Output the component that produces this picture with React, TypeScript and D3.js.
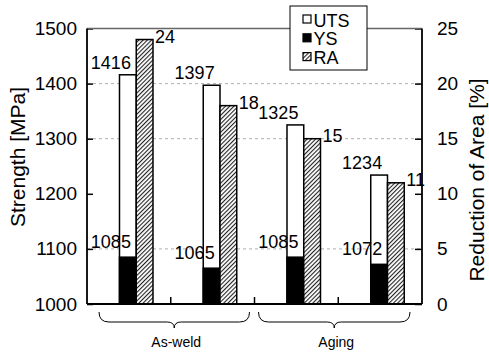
import { useEffect, useRef } from 'react';
import * as d3 from 'd3';

const W = 489;
const H = 354;
const FONT = '"Liberation Sans", Arial, sans-serif';

// four specimens, two per condition
const categories = ['aw-1', 'aw-2', 'ag-1', 'ag-2'];
const utsValues = [1416, 1397, 1325, 1234];
const ysValues = [1085, 1065, 1085, 1072];
const raValues = [24, 18, 15, 11];

const groupNames = ['As-weld', 'Aging'];
const groupMembers = [[0, 1], [2, 3]];

const strengthTicks = [1000, 1100, 1200, 1300, 1400, 1500];
const raTicks = [0, 5, 10, 15, 20, 25];
const gridValues = [1100, 1300, 1400];

const legendItems = ['UTS', 'YS', 'RA'];

export default function App() {
    const svgRef = useRef<SVGSVGElement>(null);

    useEffect(() => {
        if (!svgRef.current) return;
        const svg = d3.select(svgRef.current);
        svg.selectAll('*').remove();

        const left = 87, right = 422, top = 28.5, bottom = 304;

        const x = d3.scaleBand().domain(categories).range([left, right]).padding(0);
        const yL = d3.scaleLinear().domain([1000, 1500]).range([bottom, top]);
        const yR = d3.scaleLinear().domain([0, 25]).range([bottom, top]);
        const bw = x.bandwidth();
        const barW = bw * 0.2;
        const utsX = (i: number) => (x(categories[i]) as number) + bw * 0.388;
        const raX = (i: number) => utsX(i) + barW;

        // hatch pattern for RA
        const defs = svg.append('defs');
        const pat = defs.append('pattern')
            .attr('id', 'hatch')
            .attr('patternUnits', 'userSpaceOnUse')
            .attr('width', 3).attr('height', 3)
            .attr('patternTransform', 'rotate(45)');
        pat.append('rect').attr('width', 3).attr('height', 3).attr('fill', '#fff');
        pat.append('line').attr('x1', 0.5).attr('x2', 0.5).attr('y1', 0).attr('y2', 3)
            .attr('stroke', '#222').attr('stroke-width', 1.2);

        // gridlines
        svg.append('g').selectAll('line').data(gridValues).join('line')
            .attr('x1', left).attr('x2', right)
            .attr('y1', d => yL(d)).attr('y2', d => yL(d))
            .attr('stroke', '#999').attr('stroke-width', 0.8)
            .attr('stroke-dasharray', '3,3');

        // bars
        const bars = svg.append('g');
        categories.forEach((c, i) => {
            bars.append('rect')
                .attr('x', utsX(i)).attr('y', yL(utsValues[i]))
                .attr('width', barW).attr('height', bottom - yL(utsValues[i]))
                .attr('fill', '#fff').attr('stroke', '#000').attr('stroke-width', 1.5);
            bars.append('rect')
                .attr('x', utsX(i)).attr('y', yL(ysValues[i]))
                .attr('width', barW).attr('height', bottom - yL(ysValues[i]))
                .attr('fill', '#000').attr('stroke', '#000').attr('stroke-width', 1.5);
            bars.append('rect')
                .attr('x', raX(i)).attr('y', yR(raValues[i]))
                .attr('width', barW).attr('height', bottom - yR(raValues[i]))
                .attr('fill', 'url(#hatch)').attr('stroke', '#000').attr('stroke-width', 1.5);
        });

        // value labels
        const labels = svg.append('g').style('font-family', FONT).style('font-size', '18px').attr('fill', '#000');
        categories.forEach((c, i) => {
            labels.append('text')
                .attr('x', utsX(i) + barW / 2 - 17).attr('y', yL(utsValues[i]) - 6)
                .attr('text-anchor', 'middle').text(utsValues[i]);
            labels.append('text')
                .attr('x', utsX(i) + barW / 2 - 17).attr('y', yL(ysValues[i]) - 9)
                .attr('text-anchor', 'middle').text(ysValues[i]);
            labels.append('text')
                .attr('x', raX(i) + barW + 2).attr('y', yR(raValues[i]) + 3)
                .attr('text-anchor', 'start').text(raValues[i]);
        });

        // axes
        const axL = svg.append('g').attr('transform', `translate(${left},0)`)
            .call(d3.axisLeft(yL).tickValues(strengthTicks).tickFormat(d3.format('d'))
                .tickSizeInner(-6).tickSizeOuter(0).tickPadding(10));
        const axR = svg.append('g').attr('transform', `translate(${right},0)`)
            .call(d3.axisRight(yR).tickValues(raTicks).tickFormat(d3.format('d'))
                .tickSizeInner(-7).tickSizeOuter(0).tickPadding(15));
        [axL, axR].forEach(ax => {
            ax.select('.domain').remove();
            ax.selectAll('line').attr('stroke', '#000').attr('stroke-width', 1.5);
            ax.selectAll('text').style('font-family', FONT).style('font-size', '19px').attr('fill', '#000');
        });

        const frame = svg.append('g');
        frame.append('line').attr('x1', left).attr('x2', right).attr('y1', top).attr('y2', top)
            .attr('stroke', '#666').attr('stroke-width', 1.5);
        frame.append('line').attr('x1', left).attr('x2', left).attr('y1', top).attr('y2', bottom)
            .attr('stroke', '#000').attr('stroke-width', 1.8);
        frame.append('line').attr('x1', right).attr('x2', right).attr('y1', top).attr('y2', bottom)
            .attr('stroke', '#000').attr('stroke-width', 1.8);
        frame.append('line').attr('x1', left).attr('x2', right).attr('y1', bottom).attr('y2', bottom)
            .attr('stroke', '#000').attr('stroke-width', 1.8);
        // bottom ticks between specimens
        categories.slice(1).forEach(c => {
            const tx = x(c) as number;
            frame.append('line').attr('x1', tx).attr('x2', tx).attr('y1', bottom).attr('y2', bottom - 7)
                .attr('stroke', '#000').attr('stroke-width', 1.5);
        });

        // axis titles
        svg.append('text')
            .attr('transform', `translate(25,157) rotate(-90)`)
            .attr('text-anchor', 'middle')
            .style('font-family', FONT).style('font-size', '21px')
            .text('Strength [MPa]');
        svg.append('text')
            .attr('transform', `translate(484,180) rotate(-90)`)
            .attr('text-anchor', 'middle')
            .style('font-family', FONT).style('font-size', '21px')
            .text('Reduction of Area [%]');

        // group braces
        const yTop = 312;
        groupNames.forEach((name, gi) => {
            const [a, b] = groupMembers[gi];
            const x1 = (x(categories[a]) as number) + (gi === 0 ? 12 : 4);
            const x2 = (x(categories[b]) as number) + bw - (gi === 0 ? 5 : 12);
            const mid = (x1 + x2) / 2;
            const flat = yTop + 10;
            const p = d3.path();
            p.moveTo(x1, yTop);
            p.quadraticCurveTo(x1, flat, x1 + 10, flat);
            p.lineTo(mid - 7, flat);
            p.quadraticCurveTo(mid, flat, mid, flat + 6);
            p.quadraticCurveTo(mid, flat, mid + 7, flat);
            p.lineTo(x2 - 10, flat);
            p.quadraticCurveTo(x2, flat, x2, yTop);
            svg.append('path').attr('d', p.toString())
                .attr('fill', 'none').attr('stroke', '#000').attr('stroke-width', 1);
            svg.append('text')
                .attr('x', mid + 2).attr('y', 347)
                .attr('text-anchor', 'middle')
                .style('font-family', FONT).style('font-size', '14px')
                .text(name);
        });

        // legend
        const lg = svg.append('g');
        lg.append('rect').attr('x', 290).attr('y', 6).attr('width', 77).attr('height', 64)
            .attr('fill', '#fff').attr('stroke', '#000').attr('stroke-width', 1);
        const fills = ['#fff', '#000', 'url(#hatch)'];
        legendItems.forEach((name, i) => {
            const by = 26.5 + i * 18.8;
            lg.append('rect').attr('x', 303).attr('y', by - 11.5).attr('width', 8).attr('height', 8)
                .attr('fill', fills[i]).attr('stroke', '#000').attr('stroke-width', 1.2);
            lg.append('text').attr('x', 313.5).attr('y', by)
                .style('font-family', FONT).style('font-size', '18px')
                .text(name);
        });
    }, []);

    return (
        <svg ref={svgRef} width={W} height={H}
            style={{ position: 'fixed', left: 0, top: 0, background: '#fff' }} />
    );
}
